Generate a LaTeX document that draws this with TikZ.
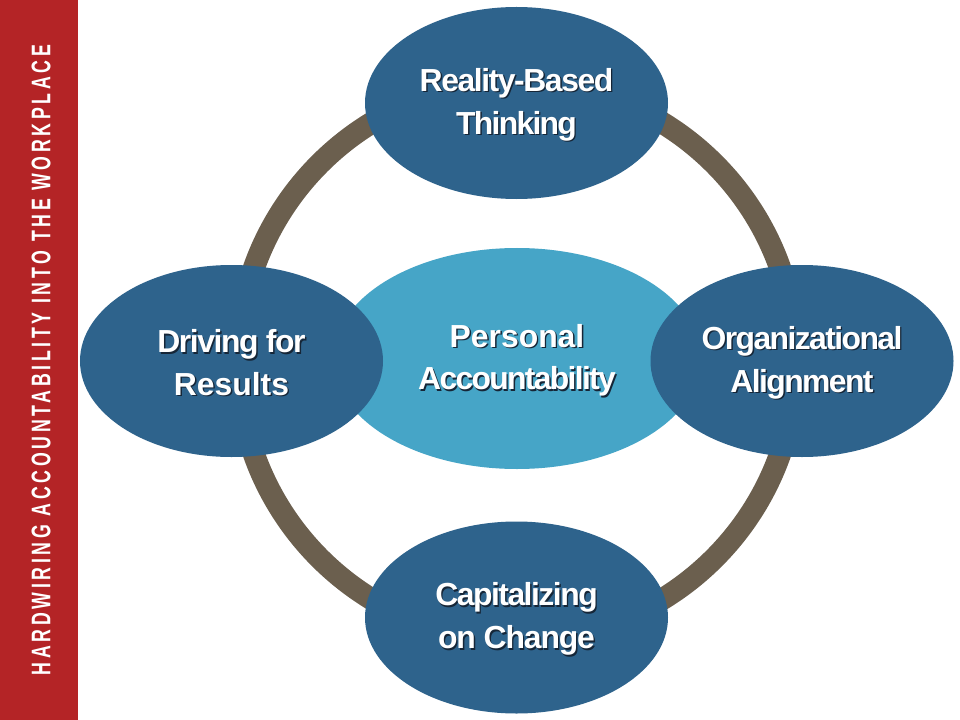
\documentclass[tikz,border=0pt]{standalone}
\usepackage{fontspec}
\setmainfont{Liberation Sans}
\newfontfamily\lblfont{Liberation Sans}
\newfontfamily\sidefont{Liberation Sans}[FakeStretch=0.66,LetterSpace=13.6]
\usetikzlibrary{shapes.geometric}
\definecolor{barred}{RGB}{180,36,38}
\definecolor{darkblue}{RGB}{46,99,140}
\definecolor{lightblue}{RGB}{70,165,199}
\definecolor{ringc}{RGB}{107,95,78}
\definecolor{shadowc}{RGB}{22,38,55}
\newcommand\tline[2]{{\addfontfeature{LetterSpace=#1}\leavevmode\rlap{\hspace{1.4pt}\raisebox{-1.4pt}{\color{shadowc}#2}}#2}}
\newcommand\topstrut{\rule{0pt}{28pt}}
\tikzset{
  lbl/.style={text=white, align=center, font=\lblfont\bfseries\fontsize{32}{43}\selectfont},
  darkell/.style={ellipse, fill=darkblue, inner sep=0pt, minimum width=303bp, minimum height=192bp, lbl},
  centerell/.style={ellipse, fill=lightblue, inner sep=0pt, minimum width=368bp, minimum height=221bp, lbl},
  ringstyle/.style={circle, draw=ringc, line width=22bp, inner sep=0pt, minimum size=558bp},
}
\begin{document}
\begin{tikzpicture}[x=1bp,y=-1bp]
\useasboundingbox (0,0) rectangle (960,720);
\fill[white] (0,0) rectangle (960,720);
\fill[barred] (0,0) rectangle (78,720);
\node[rotate=90, text=white, inner sep=0pt, font=\sidefont\bfseries\fontsize{27}{27}\selectfont] (side) at (41,360) {HARDWIRING ACCOUNTABILITY INTO THE WORKPLACE};
\node[ringstyle] (ring) at (517,361) {};
\node[centerell] (pa) at (517,358.5) {\topstrut\tline{0}{Personal}\\\tline{-5.3}{Accountability}};
\node[darkell] (rbt) at (516.5,103) {\topstrut\tline{-4.5}{Reality-Based}\\\tline{-5.5}{Thinking}};
\node[darkell] (dfr) at (231.5,361) {\topstrut\tline{-4.5}{Driving for}\\\tline{0}{Results}};
\node[darkell] (oa) at (802,361) {\topstrut\tline{-5}{Organizational}\\\tline{-5}{Alignment}};
\node[darkell] (coc) at (516.5,617.5) {\topstrut\tline{-4.7}{Capitalizing}\\\tline{-3.5}{on Change}};
\end{tikzpicture}
\end{document}
